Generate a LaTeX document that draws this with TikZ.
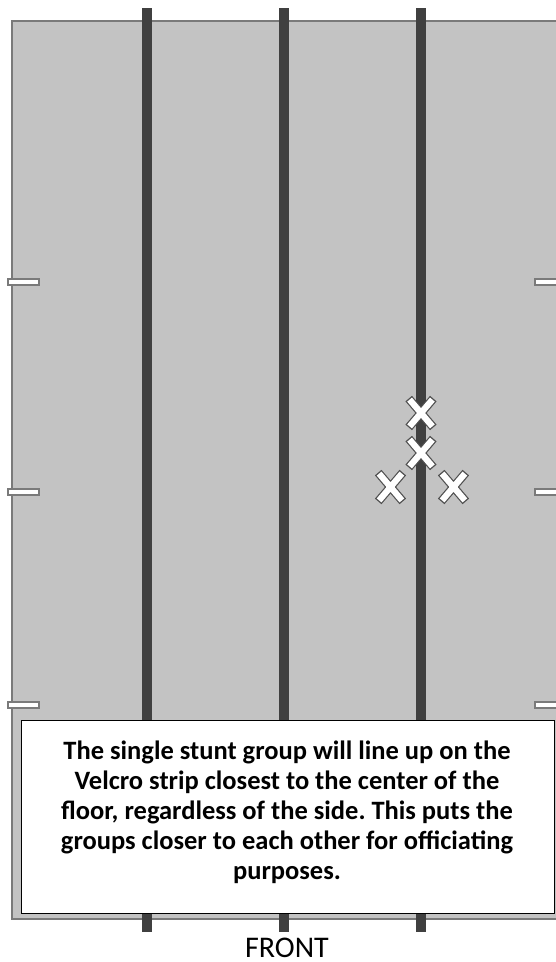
\documentclass[tikz,border=0pt]{standalone}
\usepackage{fontspec}
\setmainfont{Carlito}
\frenchspacing
\definecolor{floorfill}{RGB}{195,195,195}
\definecolor{floorline}{RGB}{122,122,122}
\definecolor{strip}{RGB}{64,64,64}
\definecolor{xout}{RGB}{80,80,80}
\begin{document}
\begin{tikzpicture}[x=1pt,y=-1pt,
  floor/.style={fill=floorfill,draw=floorline,line width=2.5pt},
  stripline/.style={draw=strip,line width=10pt},
  tick/.style={fill=white,draw=floorline,line width=1.6pt},
  note/.style={draw=black,fill=white,line width=0.9pt,minimum width=533pt,minimum height=193pt,inner sep=0pt},
  notetext/.style={font=\fontsize{26.5}{30}\selectfont\bfseries,anchor=base,inner sep=0pt},
  stuntx/.pic={
    \draw[xout,line width=8.6pt] (-12.3,-14.4)--(12.3,14.4) (-12.3,14.4)--(12.3,-14.4);
    \draw[white,line width=6.2pt] (-11.4,-13.4)--(11.4,13.4) (-11.4,13.4)--(11.4,-13.4);
  }]
\useasboundingbox (0,0) rectangle (556,962);
\fill[white] (0,0) rectangle (556,962);
\begin{scope}
\clip (0,0) rectangle (556,962);
\draw[floor] (12.2,21.2) rectangle (575,918.8);
% velcro strips
\coordinate (s1t) at (147,8);   \coordinate (s1b) at (147,932);
\coordinate (s2t) at (284,8);   \coordinate (s2b) at (284,932);
\coordinate (s3t) at (420.5,8); \coordinate (s3b) at (420.5,932);
\draw[stripline] (s1t) -- (s1b);
\draw[stripline] (s2t) -- (s2b);
\draw[stripline] (s3t) -- (s3b);
% side marks
\foreach \y in {282,492,705}{
  \draw[tick] (8,\y-3) rectangle (39,\y+3);
  \draw[tick] (535,\y-3) rectangle (575,\y+3);
}
\end{scope}
% stunt group
\pic at (421,413) {stuntx};
\pic at (421,453) {stuntx};
\pic at (390.5,487) {stuntx};
\pic at (453.5,487) {stuntx};
% note box
\node[note] (box) at (287.5,816.5) {};
\node[notetext] (t1) at (287,759) {The single stunt group will line up on the};
\node[notetext] (t2) at (287,789) {Velcro strip closest to the center of the};
\node[notetext] (t3) at (287,819.5) {floor, regardless of the side. This puts the};
\node[notetext] (t4) at (287,849.5) {groups closer to each other for officiating};
\node[notetext] (t5) at (287,879) {purposes.};
\node[font=\fontsize{30}{34}\selectfont,anchor=base,inner sep=0pt] (front) at (287,957.5) {FRONT};
\end{tikzpicture}
\end{document}
